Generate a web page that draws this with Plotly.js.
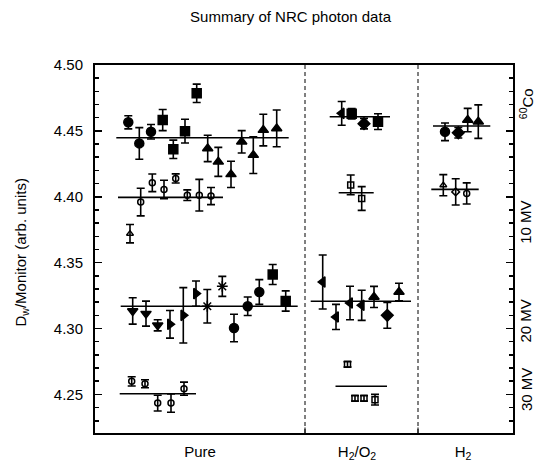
<!DOCTYPE html>
<html>
<head>
<meta charset="utf-8">
<script src="https://cdn.plot.ly/plotly-3.0.1.min.js"></script>
<style>html,body{margin:0;padding:0;background:#fff;}#chart{width:541px;height:464px;}</style>
</head>
<body>
<div id="chart"></div>
<script>
// ---- data ----
// x = position along the horizontal (arbitrary units; groups separated by dashed lines)
const groupNames = ['Pure', 'H<sub>2</sub>/O<sub>2</sub>', 'H<sub>2</sub>'];
const groupCenters = [10.5, 26.2, 36.8];
const groupBounds = [21.0, 32.3];
const energyLabels = ['<sup>60</sup>Co', '10 MV', '20 MV', '30 MV'];
const energyLabelY = [4.471, 4.381, 4.306, 4.254];

// Pure
const pureCoX   = [3.33, 4.43, 5.60, 6.77, 7.83, 9.00, 10.17, 11.27, 12.33, 13.60, 14.67, 15.83, 16.83, 18.17];
const pureCoY   = [4.4565, 4.4405, 4.4493, 4.4582, 4.4360, 4.4498, 4.4785, 4.4367, 4.4265, 4.4170, 4.4417, 4.4316, 4.4506, 4.4519];
const pureCoErr = [0.0050, 0.0120, 0.0055, 0.0080, 0.0070, 0.0090, 0.0070, 0.0100, 0.0110, 0.0100, 0.0085, 0.0140, 0.0120, 0.0140];
const pure10X   = [3.50, 4.57, 5.73, 6.90, 8.07, 9.23, 10.43, 11.60];
const pure10Y   = [4.3720, 4.3960, 4.4106, 4.4055, 4.4139, 4.4012, 4.4012, 4.4005];
const pure10Err = [0.0070, 0.0105, 0.0067, 0.0070, 0.0035, 0.0040, 0.0120, 0.0065];
const pure20X   = [3.77, 5.10, 6.27, 7.50, 8.83, 10.10, 11.23, 12.73, 13.90, 15.27, 16.43, 17.77, 19.07];
const pure20Y   = [4.3133, 4.3113, 4.3024, 4.3032, 4.3100, 4.3265, 4.3169, 4.3320, 4.3004, 4.3169, 4.3277, 4.3410, 4.3209];
const pure20Err = [0.0100, 0.0095, 0.0042, 0.0105, 0.0210, 0.0096, 0.0127, 0.0076, 0.0104, 0.0070, 0.0094, 0.0076, 0.0077];
const pure30X   = [3.67, 5.00, 6.27, 7.60, 8.90];
const pure30Y   = [4.2599, 4.2581, 4.2434, 4.2434, 4.2543];
const pure30Err = [0.0035, 0.0030, 0.0060, 0.0070, 0.0050];
const pureMeans = [4.4448, 4.3995, 4.3169, 4.2505];

// H2/O2
const hoCoX   = [24.67, 25.67, 26.90, 28.30];
const hoCoY   = [4.4633, 4.4630, 4.4555, 4.4570];
const hoCoErr = [0.0090, 0.0040, 0.0040, 0.0060];
const ho10X   = [25.57, 26.67];
const ho10Y   = [4.4090, 4.3987];
const ho10Err = [0.0075, 0.0090];
const ho20X   = [22.77, 24.10, 25.50, 26.67, 27.90, 29.23, 30.40];
const ho20Y   = [4.3353, 4.3088, 4.3194, 4.3176, 4.3240, 4.3100, 4.3277];
const ho20Err = [0.0205, 0.0095, 0.0127, 0.0114, 0.0080, 0.0098, 0.0066];
const ho30X   = [25.25, 26.00, 26.90, 28.00];
const ho30Y   = [4.2728, 4.2470, 4.2470, 4.2460];
const ho30Err = [0.0020, 0.0020, 0.0020, 0.0040];
const hoMeans = [4.4607, 4.4030, 4.3207, 4.2562];

// H2
const hCoX   = [35.00, 36.33, 37.27, 38.33];
const hCoY   = [4.4493, 4.4486, 4.4582, 4.4570];
const hCoErr = [0.0067, 0.0040, 0.0089, 0.0127];
const h10X   = [34.83, 36.07, 37.17];
const h10Y   = [4.4088, 4.4037, 4.4025];
const h10Err = [0.0080, 0.0100, 0.0080];
const hMeans = [4.4537, 4.4056];

// ---- styles ----
const symPureCo = ['circle','circle','circle','square','square','square','square','triangle-up','triangle-up','triangle-up','triangle-up','triangle-up','triangle-up','triangle-up'];
const symPure10 = ['triangle-up-open','circle-open','circle-open','circle-open','circle-open','circle-open','circle-open','circle-open'];
const symPure20 = ['triangle-down','triangle-down','triangle-down','triangle-right','triangle-right','triangle-right','asterisk-open','asterisk-open','circle','circle','circle','square','square'];
const symPure30 = ['circle-open','circle-open','circle-open','circle-open','circle-open'];
const symHoCo = ['triangle-left','square','diamond','square'];
const symHo10 = ['square-open','square-open'];
const symHo20 = ['triangle-left','triangle-left','triangle-left','triangle-left','triangle-up','diamond','triangle-up'];
const symHo30 = ['square-open','square-open','square-open','square-open'];
const symHCo = ['circle','diamond','triangle-up','triangle-up'];
const symH10 = ['triangle-up-open','diamond-open','circle-open'];

const PAD = 1.2;
const traces = [];
function pts(x, y, e, sym, size) {
  traces.push({
    type: 'scatter', mode: 'markers', x: x, y: y, showlegend: false, hoverinfo: 'skip',
    marker: {symbol: sym, size: size || 8, color: 'black', line: {color: 'black', width: 1.5}},
    error_y: {type: 'data', array: e, visible: true, color: 'black', thickness: 1.6, width: 4}
  });
}
function meanLine(x, m) {
  const lo = Math.min.apply(null, x) - PAD, hi = Math.max.apply(null, x) + PAD;
  traces.push({type: 'scatter', mode: 'lines', x: [lo, hi], y: [m, m], showlegend: false, hoverinfo: 'skip',
    line: {color: 'black', width: 1.6}});
}
meanLine(pureCoX, pureMeans[0]); meanLine(pure10X, pureMeans[1]); meanLine(pure20X, pureMeans[2]); meanLine(pure30X, pureMeans[3]);
meanLine(hoCoX, hoMeans[0]); meanLine(ho10X, hoMeans[1]); meanLine(ho20X, hoMeans[2]); meanLine(ho30X, hoMeans[3]);
meanLine(hCoX, hMeans[0]); meanLine(h10X, hMeans[1]);
pts(pureCoX, pureCoY, pureCoErr, symPureCo, 9);
pts(pure10X, pure10Y, pure10Err, symPure10, 6);
pts(pure20X, pure20Y, pure20Err, symPure20, 9);
pts(pure30X, pure30Y, pure30Err, symPure30, 6);
pts(hoCoX, hoCoY, hoCoErr, symHoCo, 9);
pts(ho10X, ho10Y, ho10Err, symHo10, 6);
pts(ho20X, ho20Y, ho20Err, symHo20, 9);
pts(ho30X, ho30Y, ho30Err, symHo30, 6);
pts(hCoX, hCoY, hCoErr, symHCo, 9);
pts(h10X, h10Y, h10Err, symH10, 6);

const shapes = [];
groupBounds.forEach(b => {
  shapes.push({type: 'line', xref: 'x', yref: 'paper', x0: b, x1: b, y0: 0, y1: 1, line: {color: 'black', width: 1, dash: '4px,3px'}});
  shapes.push({type: 'line', xref: 'x', yref: 'paper', x0: b, x1: b, y0: 0, y1: 0.015, line: {color: 'black', width: 1}});
});

const annotations = energyLabels.map((t, i) => ({
  text: t, xref: 'paper', yref: 'y', x: 1.031, y: energyLabelY[i], textangle: -90,
  xanchor: 'center', yanchor: 'middle', showarrow: false, font: {size: 15, color: 'black'}
}));
annotations.push({text: 'D<sub>w</sub>/Monitor (arb. units)', xref: 'paper', yref: 'paper', x: -0.175, y: 0.49,
  textangle: -90, xanchor: 'center', yanchor: 'middle', showarrow: false, font: {size: 15, color: 'black'}});

const layout = {
  width: 541, height: 464,
  margin: {l: 95, r: 28, t: 65, b: 31},
  paper_bgcolor: 'white', plot_bgcolor: 'white',
  font: {family: 'Liberation Sans, Arial, sans-serif', size: 15, color: 'black'},
  title: {text: 'Summary of NRC photon data', x: 0.537, xanchor: 'center', y: 0.963, yanchor: 'middle', font: {size: 15, color: 'black'}},
  xaxis: {range: [0, 41.8], showgrid: false, zeroline: false, showline: true, linecolor: 'black', linewidth: 2, mirror: true,
    tickmode: 'array', tickvals: groupCenters, ticktext: groupNames, ticks: '', ticklabelstandoff: 4, tickfont: {size: 15}},
  yaxis: {range: [4.2207, 4.5], showgrid: false, zeroline: false, showline: true, linecolor: 'black', linewidth: 2, mirror: 'ticks',
    dtick: 0.05, tick0: 4.25, tickformat: '.2f', ticks: 'inside', ticklen: 7, tickwidth: 1.5, tickcolor: 'black', ticklabelstandoff: 7,
    tickfont: {size: 15},
    minor: {dtick: 0.01, ticks: 'inside', ticklen: 4, tickwidth: 1.5, tickcolor: 'black'}},
  shapes: shapes, annotations: annotations
};
Plotly.newPlot('chart', traces, layout, {displayModeBar: false, staticPlot: true});
</script>
</body>
</html>
